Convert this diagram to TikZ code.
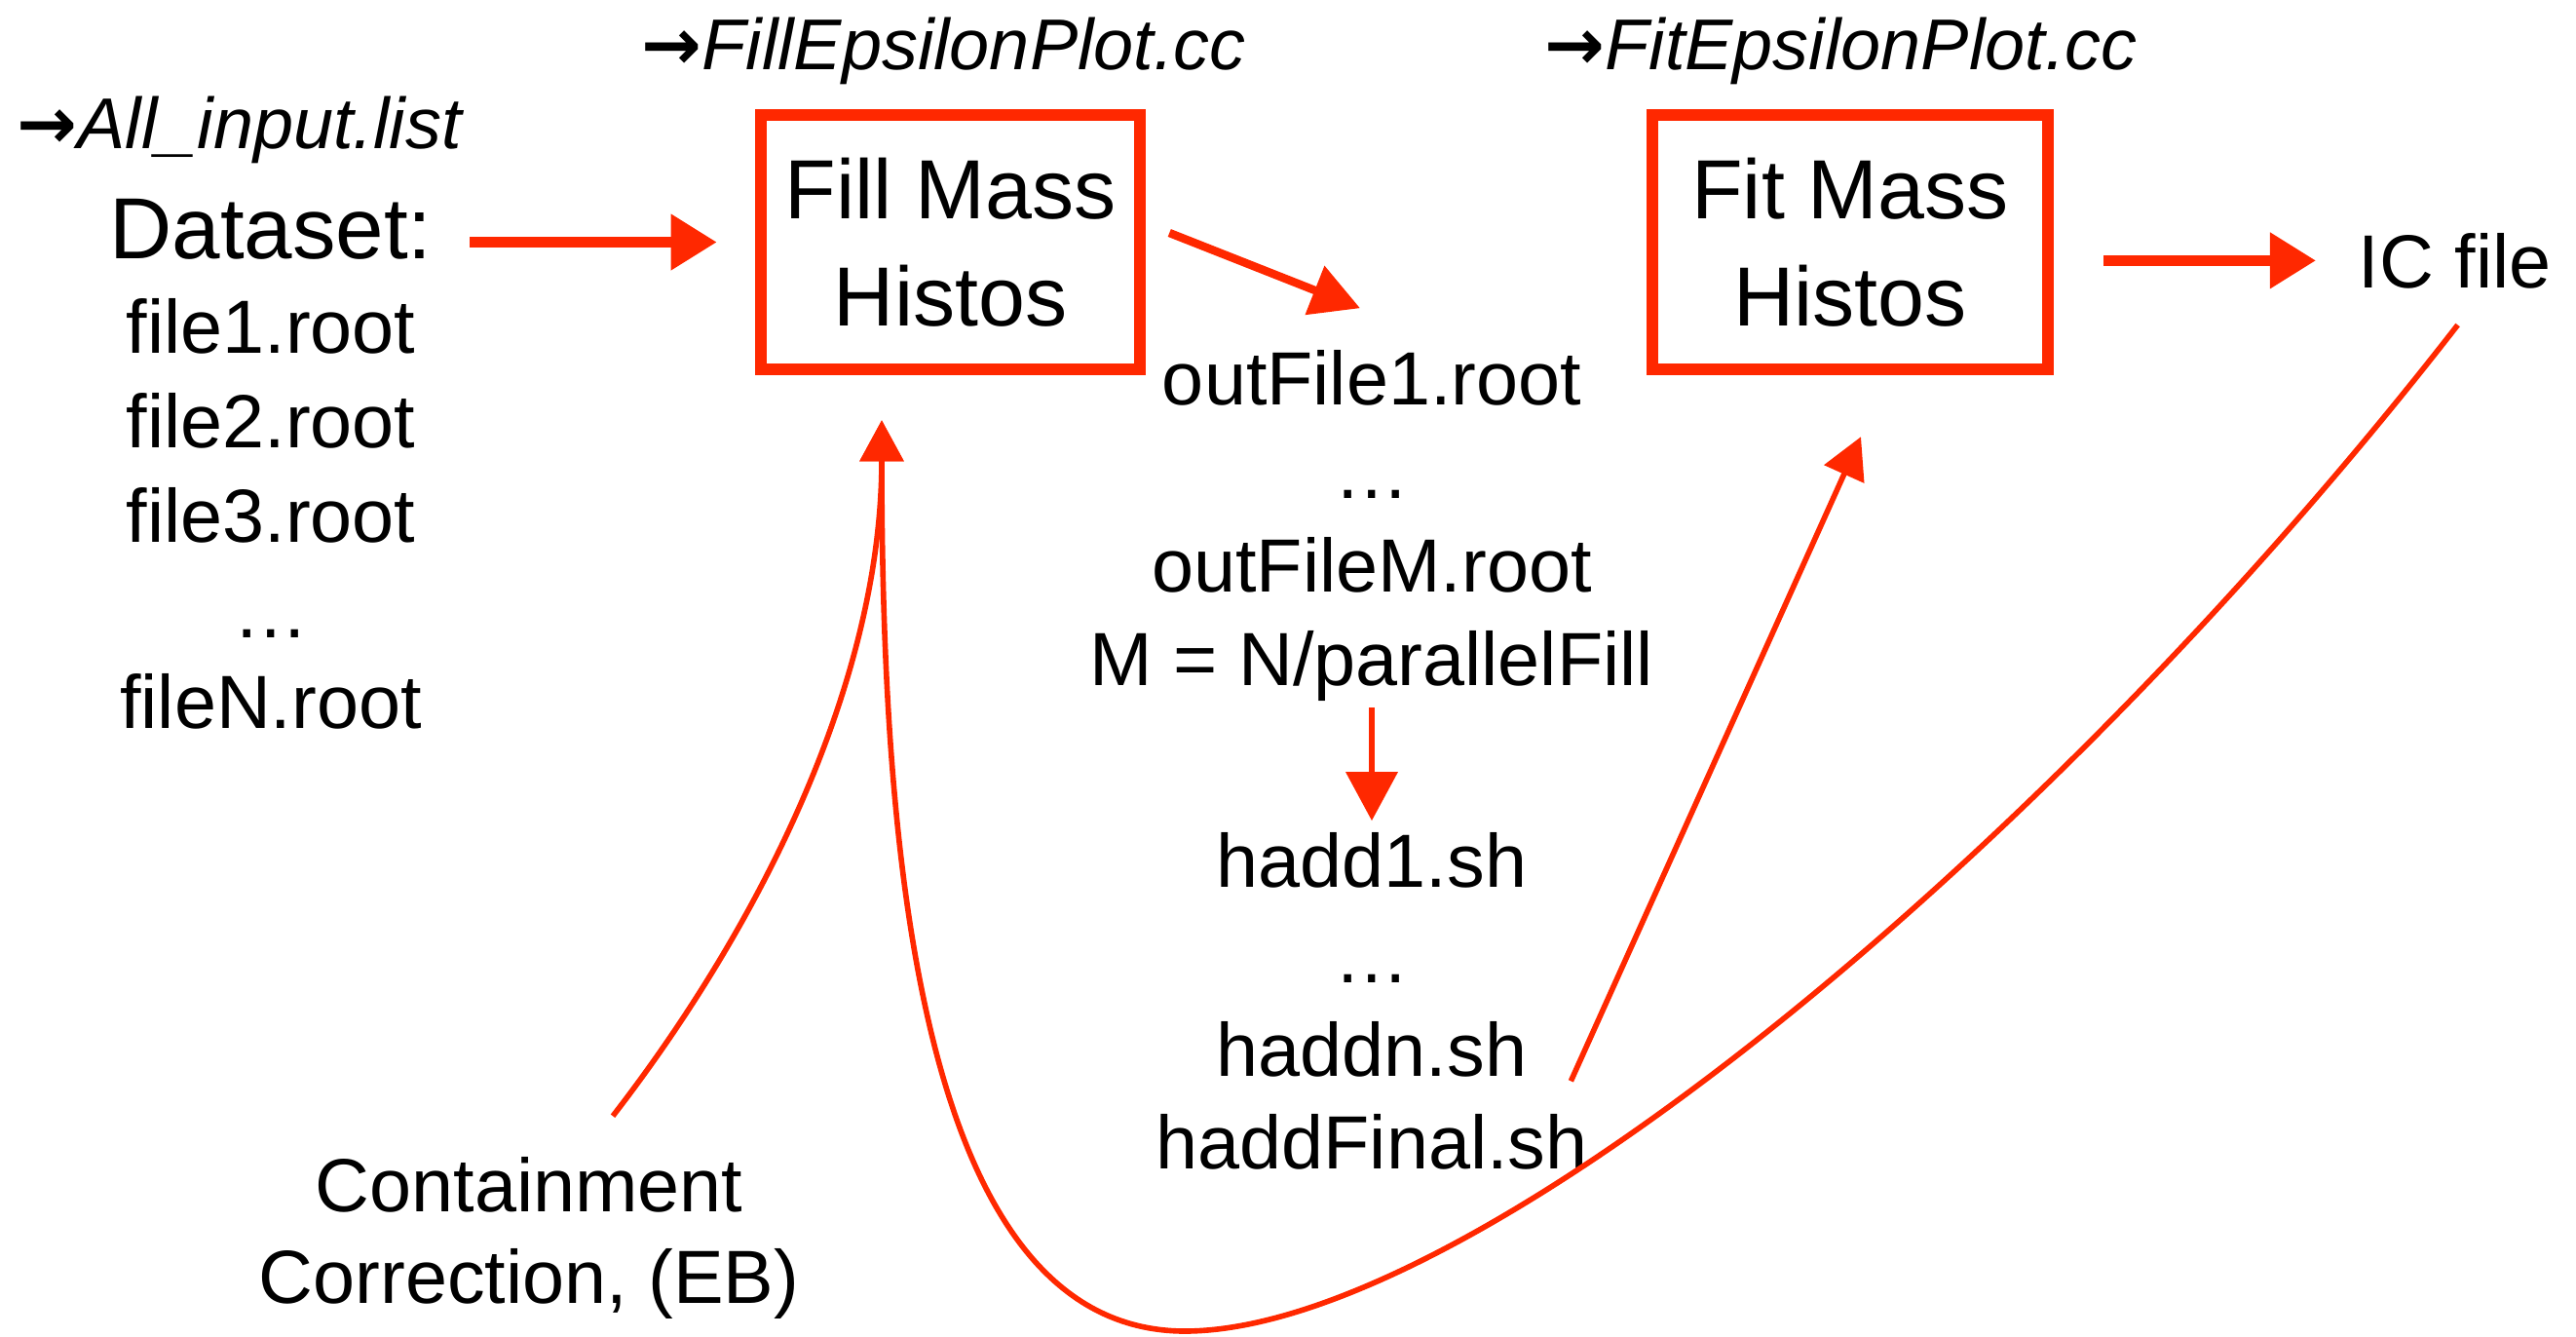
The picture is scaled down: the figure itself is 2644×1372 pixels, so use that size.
\documentclass[tikz,border=0pt]{standalone}
\usepackage{fontspec}
\setmainfont{Liberation Sans}
\newfontfamily\arrowfont{DejaVu Sans}
\usetikzlibrary{arrows.meta,calc}
\definecolor{sk}{RGB}{255,40,0}
\newcommand{\rarr}{{\upshape\arrowfont\bfseries →}}
\begin{document}
\begin{tikzpicture}[x=0.01cm,y=-0.01cm,
  lbl/.style={inner sep=0pt, anchor=base, font=\fontsize{22pt}{26pt}\selectfont},
  biglbl/.style={inner sep=0pt, anchor=base, font=\fontsize{25.3pt}{30pt}\selectfont},
  codelbl/.style={inner sep=0pt, anchor=base west, font=\fontsize{21pt}{25pt}\selectfont\itshape},
  stepbox/.style={draw=sk, line width=3.5pt, inner sep=0pt, align=center,
    minimum height=2.61cm, font=\fontsize{24.5pt}{31.3pt}\selectfont},
  thickarr/.style={draw=sk, line width=3pt, -{Triangle[length=0.47cm,width=0.55cm]}},
  midarr/.style={draw=sk, line width=2.4pt, -{Triangle[length=0.5cm,width=0.52cm]}},
  curvearr/.style={draw=sk, line width=1.6pt, -{Triangle[length=0.42cm,width=0.44cm]}},
]
\useasboundingbox (0,0) rectangle (2644,1372);

% left column
\node[codelbl] (allin) at (17,152) {\rarr All\_input.list};
\node[biglbl] (dataset) at (278,265) {Dataset:};
\node[lbl] (f1) at (278,362) {file1.root};
\node[lbl] (f2) at (278,459) {file2.root};
\node[lbl] (f3) at (278,556) {file3.root};
\node[lbl] (fdots) at (278,654) {…};
\node[lbl] (fN) at (278,747) {fileN.root};

% boxes
\node[stepbox, minimum width=3.89cm] (fill) at (975.5,248.5) {Fill Mass\\Histos};
\node[codelbl] (fillcc) at (658,71) {\rarr FillEpsilonPlot.cc};
\node[stepbox, minimum width=4.06cm] (fit) at (1899,248.5) {Fit Mass\\Histos};
\node[codelbl] (fitcc) at (1585,71) {\rarr FitEpsilonPlot.cc};
\node[lbl, anchor=base west] (ic) at (2420,295) {IC file};

% middle column
\node[lbl] (out1) at (1408,415) {outFile1.root};
\node[lbl] (odots) at (1408,511) {…};
\node[lbl] (outM) at (1408,607) {outFileM.root};
\node[lbl] (mform) at (1408,703) {M = N/parallelFill};
\node[lbl] (hadd1) at (1408,910) {hadd1.sh};
\node[lbl] (hdots) at (1408,1008) {…};
\node[lbl] (haddn) at (1408,1104) {haddn.sh};
\node[lbl] (haddF) at (1408,1199) {haddFinal.sh};

% containment
\node[lbl] (cont) at (543,1243) {Containment};
\node[lbl] (corr) at (543,1337) {Correction, (EB)};

% connectors
\draw[thickarr, shorten <=0.38cm, shorten >=0.39cm] (fill.west -| dataset.east) -- (fill.west);
\draw[midarr] ([shift={(24,-9.5)}]fill.east) -- ([shift={(-12,-42)}]out1.north);
\draw[midarr, line width=1.9pt, shorten <=0.06cm, shorten >=0.11cm] (mform.south) -- (hadd1.north);
\draw[thickarr, shorten <=0.51cm, shorten >=0.43cm] (fit.east |- ic.west) -- (ic.west);
\draw[curvearr] ([shift={(86,-41)}]cont.north) .. controls (780,950) and (905,700) .. ([shift={(-70.5,46)}]fill.south);
\draw[curvearr] ([shift={(3,37)}]ic.south) .. controls (2090,890) and (1500,1368) .. (1214,1366)
   .. controls (950,1363) and (905,900) .. ([shift={(-70.5,46)}]fill.south);
\draw[curvearr] ([shift={(44.5,33)}]haddn.east) -- ([shift={(11,63)}]fit.south);
\end{tikzpicture}
\end{document}
